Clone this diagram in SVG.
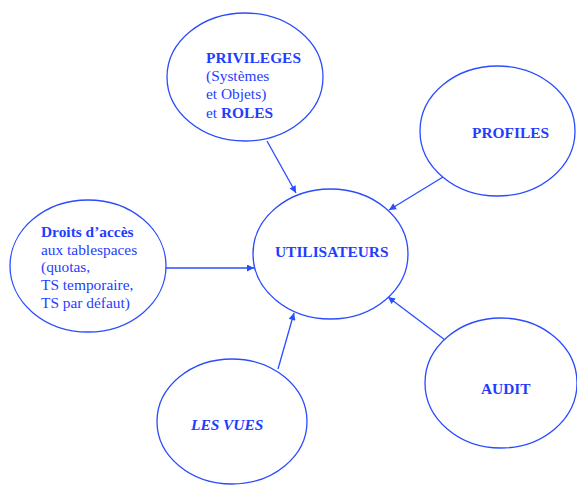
<svg xmlns="http://www.w3.org/2000/svg" width="577" height="485" viewBox="0 0 577 485">
  <style>
    .node { fill: #ffffff; stroke: #2a4cff; stroke-width: 1.3; }
    .edge { stroke: #2a4cff; stroke-width: 1.3; fill: none; marker-end: url(#arrow); }
    text { font-family: "Liberation Serif", "Times New Roman", serif; font-size: 15.4px; fill: #1f3dff; }
    .b { font-weight: bold; }
    .bi { font-weight: bold; font-style: italic; }
  </style>
  <defs>
    <marker id="arrow" viewBox="0 0 10 10" refX="10" refY="5" markerWidth="9" markerHeight="7" markerUnits="userSpaceOnUse" orient="auto">
      <path d="M0,0 L10,5 L0,10 z" fill="#2a4cff"/>
    </marker>
  </defs>
  <rect width="577" height="485" fill="#ffffff"/>

  <g id="connectors">
    <line class="edge" x1="267" y1="141" x2="296" y2="193"/>
    <line class="edge" x1="443" y1="177" x2="389" y2="210"/>
    <line class="edge" x1="165" y1="268" x2="254" y2="268"/>
    <line class="edge" x1="278" y1="369" x2="294" y2="313"/>
    <line class="edge" x1="445" y1="340" x2="388" y2="297"/>
  </g>

  <g id="utilisateurs">
    <ellipse class="node" cx="330.5" cy="254" rx="77.5" ry="65"/>
    <text x="275" y="257" class="b">UTILISATEURS</text>
  </g>

  <g id="privileges">
    <ellipse class="node" cx="245" cy="77" rx="78" ry="64"/>
    <text x="206" y="63" class="b">PRIVILEGES</text>
    <text x="206" y="81">(Systèmes</text>
    <text x="206" y="99">et Objets)</text>
    <text x="206" y="118">et <tspan class="b">ROLES</tspan></text>
  </g>

  <g id="profiles">
    <ellipse class="node" cx="497.5" cy="131" rx="77.5" ry="65"/>
    <text x="472" y="138" class="b">PROFILES</text>
  </g>

  <g id="droits">
    <ellipse class="node" cx="88" cy="266" rx="78" ry="66"/>
    <text x="41" y="237" class="b">Droits d’accès</text>
    <text x="41" y="255">aux tablespaces</text>
    <text x="41" y="272">(quotas,</text>
    <text x="41" y="290">TS temporaire,</text>
    <text x="41" y="308">TS par défaut)</text>
  </g>

  <g id="vues">
    <ellipse class="node" cx="232" cy="421.5" rx="75" ry="62.5"/>
    <text x="191" y="430" class="bi">LES VUES</text>
  </g>

  <g id="audit">
    <ellipse class="node" cx="501" cy="383" rx="76" ry="65"/>
    <text x="481" y="394" class="b">AUDIT</text>
  </g>
</svg>
